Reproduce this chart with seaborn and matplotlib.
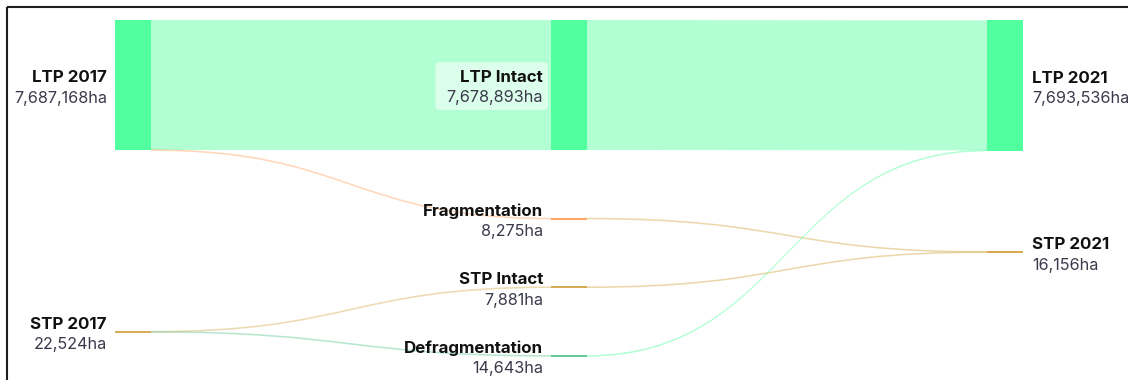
import numpy as np
import pandas as pd
import matplotlib
matplotlib.use("Agg")
import matplotlib.pyplot as plt
from matplotlib.path import Path
from matplotlib.patches import PathPatch, Rectangle, FancyBboxPatch
import seaborn as sns

# ---------------- data ----------------
node_names = ["LTP 2017", "STP 2017",
              "LTP Intact", "Fragmentation", "STP Intact", "Defragmentation",
              "LTP 2021", "STP 2021"]
node_cols = [0, 0, 1, 1, 1, 1, 2, 2]
node_colors = ["#52FF9E", "#D6AD55",
               "#52FF9E", "#FFA566", "#D6AD55", "#64C994",
               "#52FF9E", "#D6A94A"]

link_src = ["LTP 2017", "LTP 2017", "STP 2017", "STP 2017",
            "LTP Intact", "Fragmentation", "STP Intact", "Defragmentation"]
link_tgt = ["LTP Intact", "Fragmentation", "STP Intact", "Defragmentation",
            "LTP 2021", "STP 2021", "STP 2021", "LTP 2021"]
link_val = [7678893, 8275, 7881, 14643, 7678893, 8275, 7881, 14643]

# ---------------- layout (pixel space) ----------------
W, H = 1128, 380
X_LEFT, X_RIGHT = 115, 1023
NODE_W = 36
TOP, BOTTOM = 20, 356
PAD = 68.5
MIN_W = 1.6      # thinnest visible link
MIN_NODE = 2.0   # thinnest visible node
LINK_ALPHA = 0.45
FS_NAME = 12.2
FS_VALUE = 11.7

sns.set_theme(style="white")
plt.rcParams["font.family"] = ["Inter", "DejaVu Sans"]

nodes = pd.DataFrame({"name": node_names, "col": node_cols, "color": node_colors})
links = pd.DataFrame({"source": link_src, "target": link_tgt, "value": link_val})

out_sum = links.groupby("source")["value"].sum()
in_sum = links.groupby("target")["value"].sum()
nodes["value"] = [max(out_sum.get(n, 0), in_sum.get(n, 0)) for n in nodes["name"]]

ncol = nodes["col"].max() + 1
col_step = (X_RIGHT - NODE_W - X_LEFT) / (ncol - 1)
nodes["x0"] = X_LEFT + nodes["col"] * col_step
nodes["x1"] = nodes["x0"] + NODE_W

counts = nodes.groupby("col").size()
sums = nodes.groupby("col")["value"].sum()
ky = min((BOTTOM - TOP - (counts[c] - 1) * PAD) / sums[c] for c in counts.index)
nodes["h"] = nodes["value"] * ky
nodes["y0"] = np.nan
nodes = nodes.set_index("name")

# fullest column is stacked top to bottom
dense = max(counts.index, key=lambda c: sums[c] * ky + (counts[c] - 1) * PAD)
y = TOP
for n in nodes.index[nodes["col"] == dense]:
    nodes.loc[n, "y0"] = y
    y += nodes.loc[n, "h"] + PAD

# other columns: weighted centre of linked nodes, then resolve overlaps
for c in counts.index:
    if c == dense:
        continue
    centers = {}
    for n in nodes.index[nodes["col"] == c]:
        lk = links[(links["source"] == n) | (links["target"] == n)]
        other = np.where(lk["source"] == n, lk["target"], lk["source"])
        oc = nodes.loc[other, "y0"].values + nodes.loc[other, "h"].values / 2
        centers[n] = np.average(oc, weights=lk["value"].values)
    prev = TOP - PAD
    for n in sorted(centers, key=centers.get):
        y0 = max(centers[n] - nodes.loc[n, "h"] / 2, TOP, prev + PAD)
        nodes.loc[n, "y0"] = y0
        prev = y0 + nodes.loc[n, "h"]

nodes["yc"] = nodes["y0"] + nodes["h"] / 2

# link attachment points
links["w"] = links["value"] * ky
links["sy"] = 0.0
links["ty"] = 0.0
for n, grp in links.groupby("source"):
    y = nodes.loc[n, "y0"]
    for i in grp.index[np.argsort(nodes.loc[grp["target"], "y0"].values)]:
        links.loc[i, "sy"] = y + links.loc[i, "w"] / 2
        y += links.loc[i, "w"]
for n, grp in links.groupby("target"):
    y = nodes.loc[n, "y0"]
    for i in grp.index[np.argsort(nodes.loc[grp["source"], "y0"].values)]:
        links.loc[i, "ty"] = y + links.loc[i, "w"] / 2
        y += links.loc[i, "w"]

# ---------------- draw ----------------
fig = plt.figure(figsize=(W / 100, H / 100), dpi=100)
ax = fig.add_axes([0, 0, 1, 1])
ax.set_xlim(0, W)
ax.set_ylim(H, 0)
ax.axis("off")

for _, lk in links.iterrows():
    x0 = nodes.loc[lk["source"], "x1"]
    x1 = nodes.loc[lk["target"], "x0"]
    xm = (x0 + x1) / 2
    hw = max(lk["w"], MIN_W) / 2
    ya, yb = lk["sy"], lk["ty"]
    verts = [(x0, ya - hw), (xm, ya - hw), (xm, yb - hw), (x1, yb - hw),
             (x1, yb + hw), (xm, yb + hw), (xm, ya + hw), (x0, ya + hw), (x0, ya - hw)]
    codes = [Path.MOVETO, Path.CURVE4, Path.CURVE4, Path.CURVE4,
             Path.LINETO, Path.CURVE4, Path.CURVE4, Path.CURVE4, Path.CLOSEPOLY]
    ax.add_patch(PathPatch(Path(verts, codes), facecolor=nodes.loc[lk["target"], "color"],
                           edgecolor="none", alpha=LINK_ALPHA, zorder=1))

for n, nd in nodes.iterrows():
    hh = max(nd["h"], MIN_NODE)
    ax.add_patch(Rectangle((nd["x0"], nd["yc"] - hh / 2), NODE_W, hh,
                           facecolor=nd["color"], edgecolor="none", zorder=2))

fig.canvas.draw()
renderer = fig.canvas.get_renderer()
for n, nd in nodes.iterrows():
    if nd["col"] == ncol - 1:
        tx, ha = nd["x1"] + 9, "left"
    else:
        tx, ha = nd["x0"] - 8, "right"
    t1 = ax.text(tx, nd["yc"] - 3, n, ha=ha, va="baseline", fontsize=FS_NAME,
                 fontweight="bold", color="#111111", zorder=4)
    t2 = ax.text(tx, nd["yc"] + 17.5, f"{nd['value']:,}ha", ha=ha, va="baseline",
                 fontsize=FS_VALUE, color="#3a3a4c", zorder=4)
    # label sitting on a wide band gets a soft white backdrop
    if 0 < nd["col"] < ncol - 1 and nd["h"] > 20:
        inv = ax.transData.inverted()
        left = min(inv.transform(t.get_window_extent(renderer))[:, 0].min() for t in (t1, t2))
        ax.add_patch(FancyBboxPatch((left - 11, nd["yc"] - 23), tx + 5 - (left - 11), 48,
                                    boxstyle="round,pad=0,rounding_size=5",
                                    facecolor="white", alpha=0.55, edgecolor="none", zorder=3))

ax.add_patch(Rectangle((7, 7), W + 50, H + 50, fill=False, edgecolor="#1e1e1e",
                       linewidth=1.5, zorder=5, clip_on=True))

fig.savefig("out.png", dpi=100)
